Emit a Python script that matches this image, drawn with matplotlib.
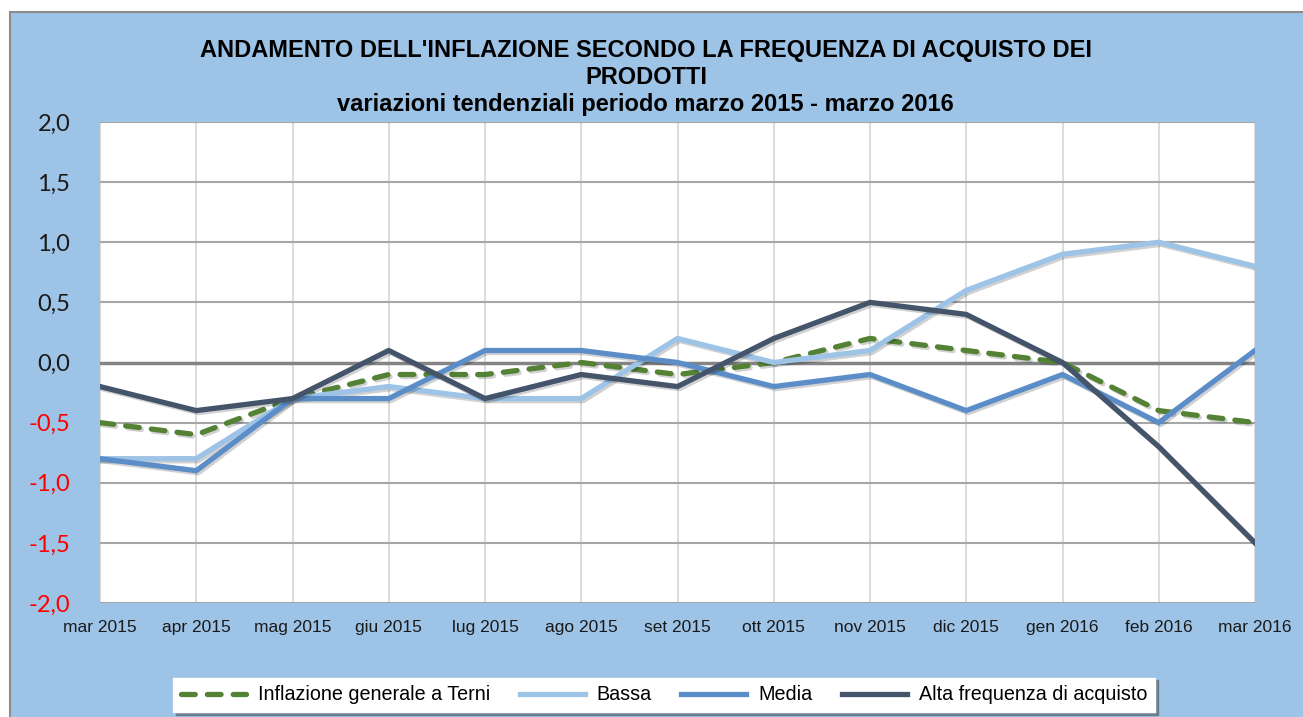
import matplotlib
matplotlib.use("Agg")
import matplotlib.pyplot as plt
import matplotlib.patheffects as pe
from matplotlib.patches import Rectangle

months = ["mar 2015", "apr 2015", "mag 2015", "giu 2015", "lug 2015", "ago 2015",
          "set 2015", "ott 2015", "nov 2015", "dic 2015", "gen 2016", "feb 2016", "mar 2016"]
inflazione = [-0.5, -0.6, -0.3, -0.1, -0.1, 0.0, -0.1, 0.0, 0.2, 0.1, 0.0, -0.4, -0.5]
bassa = [-0.8, -0.8, -0.3, -0.2, -0.3, -0.3, 0.2, 0.0, 0.1, 0.6, 0.9, 1.0, 0.8]
media = [-0.8, -0.9, -0.3, -0.3, 0.1, 0.1, 0.0, -0.2, -0.1, -0.4, -0.1, -0.5, 0.1]
alta = [-0.2, -0.4, -0.3, 0.1, -0.3, -0.1, -0.2, 0.2, 0.5, 0.4, 0.0, -0.7, -1.5]
yticks = [-2.0, -1.5, -1.0, -0.5, 0.0, 0.5, 1.0, 1.5, 2.0]

W, H = 1303, 717
fig = plt.figure(figsize=(W / 100, H / 100), dpi=100)
fig.patch.set_facecolor("white")
bg = Rectangle((10 / W, -0.01), 1 - 10 / W + 0.01, (H - 12) / H + 0.01, transform=fig.transFigure,
               facecolor="#9DC3E6", edgecolor="#8C8C8C", linewidth=1.5, zorder=-10)
fig.add_artist(bg)

ax = fig.add_axes([100 / W, (H - 603) / H, (1255 - 100) / W, (603 - 122) / H])
ax.set_zorder(1)
ax.set_facecolor("white")
for s in ax.spines.values():
    s.set_visible(False)

x = list(range(len(months)))
ax.set_xlim(0, len(months) - 1)
ax.set_ylim(-2.0, 2.0)
ax.set_yticks(yticks)
ax.set_xticks(x)
ax.set_xticklabels(months, family="Liberation Sans", fontsize=12.5, color="#1a1a1a")
ax.set_yticklabels([f"{v:.1f}".replace(".", ",") for v in yticks], family="Lato", fontsize=17)
for lbl, v in zip(ax.get_yticklabels(), yticks):
    lbl.set_color("#FF0000" if v < 0 else "#1a1a1a")
ax.tick_params(axis="y", length=0, pad=21.5)
ax.tick_params(axis="x", length=0, pad=12)

for v in yticks:
    if v == 0:
        ax.axhline(v, color="#848484", lw=2.5, zorder=1)
    else:
        ax.axhline(v, color="#A6A6A6", lw=1.5, zorder=1)
for xi in x:
    ax.axvline(xi, color="#D9D9D9", lw=1.3, zorder=0.5)

shadow = [pe.SimpleLineShadow(offset=(1.5, -1.5), alpha=0.18, shadow_color="black"), pe.Normal()]
lw = 3.8
ax.plot(x, inflazione, color="#548235", lw=lw, ls=(0, (2.6, 2.3)), label="Inflazione generale a Terni",
        zorder=3, path_effects=shadow, dash_capstyle="round", solid_capstyle="round")
ax.plot(x, bassa, color="#9DC3E6", lw=lw, label="Bassa", zorder=3, path_effects=shadow)
ax.plot(x, media, color="#5B8DC9", lw=lw, label="Media", zorder=3, path_effects=shadow)
ax.plot(x, alta, color="#44546A", lw=lw, label="Alta frequenza di acquisto", zorder=3, path_effects=shadow)

tfont = dict(ha="center", va="center", fontsize=17, fontweight="bold", family="Liberation Sans")
fig.text(646 / W, 1 - 50 / H, "ANDAMENTO DELL'INFLAZIONE SECONDO LA FREQUENZA DI ACQUISTO DEI", **tfont)
fig.text(646 / W, 1 - 77 / H, "PRODOTTI", **tfont)
fig.text(645 / W, 1 - 104 / H, "variazioni tendenziali periodo marzo 2015 - marzo 2016", **tfont)

leg = fig.legend(loc="center", bbox_to_anchor=(664 / W, 1 - 695 / H), ncol=4,
                 prop={"family": "Liberation Sans", "size": 14.2}, frameon=True, fancybox=False,
                 shadow=True, handlelength=3.3, columnspacing=1.5, handletextpad=0.6,
                 borderpad=0.4)
leg.get_frame().set_facecolor("white")
leg.get_frame().set_edgecolor("white")
for h in leg.get_lines():
    h.set_path_effects([pe.Normal()])

fig.savefig("out.png", dpi=100)
